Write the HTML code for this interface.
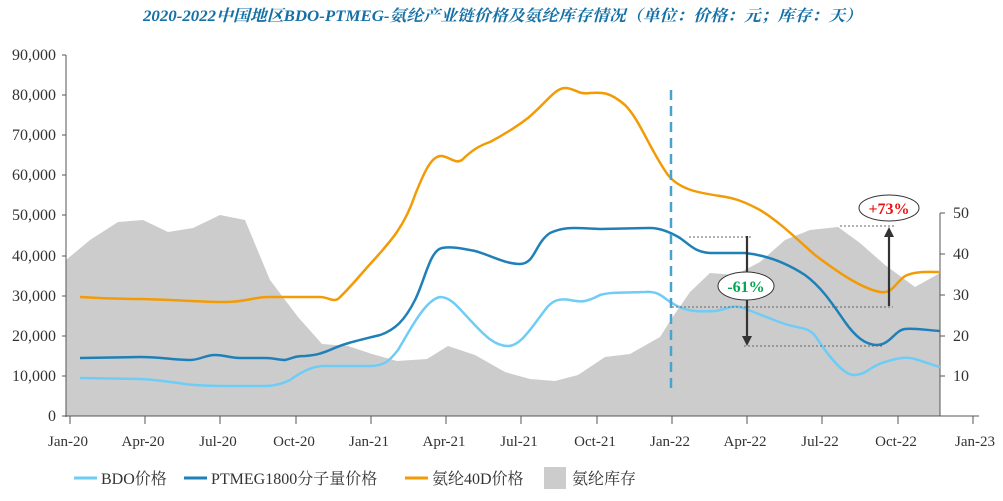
<!DOCTYPE html>
<html><head><meta charset="utf-8"><style>
body{margin:0;background:#fff;}
svg text{font-family:"Liberation Serif","Noto Serif CJK SC",serif;}
</style></head><body>
<svg width="1003" height="496" viewBox="0 0 1003 496" xmlns="http://www.w3.org/2000/svg">
<text x="143" y="21" font-size="16" font-style="italic" font-weight="bold" fill="#1570a6" textLength="719" lengthAdjust="spacingAndGlyphs">2020-2022中国地区BDO-PTMEG-氨纶产业链价格及氨纶库存情况（单位：价格：元；库存：天）</text>
<path d="M66,260 L90,240 L118,222 L143,220 L168,232 L193,228 L220,215 L245,220 L270,280 L298,317 L322,344 L348,346 L372,354 L397,361 L427,359 L448,346 L475,355 L505,372 L530,379 L555,381 L578,375 L605,357 L630,354 L660,337 L672,318 L690,292 L710,273 L735,275 L760,262 L785,240 L810,230 L838,227 L860,243 L885,265 L915,287 L940,273 L940,416 L66,416 Z" fill="#cccccc"/>
<g stroke="#555" stroke-width="1" fill="none">
<line x1="66" y1="55" x2="66" y2="417"/>
<line x1="66" y1="416" x2="979" y2="416"/>
<line x1="940" y1="213" x2="940" y2="416"/>
<path d="M62,55H66M62,95H66M62,135H66M62,175H66M62,215H66M62,256H66M62,296H66M62,336H66M62,376H66M62,416H66"/>
<path d="M940,213H945M940,254H945M940,295H945M940,336H945M940,376H945"/>
<path d="M70,416V424M145,416V424M220,416V424M296,416V424M371,416V424M446,416V424M521,416V424M597,416V424M672,416V424M747,416V424M822,416V424M898,416V424M973,416V424"/>
</g>
<g font-size="16" fill="#333" text-anchor="end">
<text x="56" y="60">90,000</text><text x="56" y="100">80,000</text><text x="56" y="140">70,000</text><text x="56" y="180">60,000</text><text x="56" y="220">50,000</text><text x="56" y="261">40,000</text><text x="56" y="301">30,000</text><text x="56" y="341">20,000</text><text x="56" y="381">10,000</text><text x="56" y="421">0</text>
</g>
<g font-size="16" fill="#333">
<text x="953" y="218">50</text><text x="953" y="259">40</text><text x="953" y="300">30</text><text x="953" y="341">20</text><text x="953" y="381">10</text>
</g>
<g font-size="15" fill="#333" text-anchor="middle">
<text x="68" y="446">Jan-20</text><text x="143" y="446">Apr-20</text><text x="218" y="446">Jul-20</text><text x="294" y="446">Oct-20</text><text x="369" y="446">Jan-21</text><text x="444" y="446">Apr-21</text><text x="519" y="446">Jul-21</text><text x="595" y="446">Oct-21</text><text x="670" y="446">Jan-22</text><text x="745" y="446">Apr-22</text><text x="820" y="446">Jul-22</text><text x="896" y="446">Oct-22</text><text x="975" y="446">Jan-23</text>
</g>
<path d="M80,297 C110,299 130,299 141,299 C180,300 200,302 225,302 C245,302 255,297 268,297 L320,297 C328,297 332,302 338,299 C350,288 360,275 372,262 C392,240 405,225 415,195 C425,170 432,155 442,156 C452,158 455,164 462,160 C470,152 478,146 490,142 C505,134 515,128 528,118 C545,104 555,88 565,88 C575,88 578,95 590,93 C602,92 610,92 625,105 C640,120 650,150 668,175 C680,190 700,193 720,196 C735,198 745,202 760,210 C780,222 800,242 815,255 C835,270 860,288 880,292 C893,294 895,283 905,276 C915,271 928,272 940,272" fill="none" stroke="#f29b05" stroke-width="2.5"/>
<path d="M80,358 L140,357 C160,357 175,360 190,360 C200,360 205,355 215,355 C225,355 230,358 240,358 L265,358 C275,358 278,360 285,360 C293,358 295,356 305,356 C318,355 322,353 330,350 C345,343 360,340 380,335 C395,330 405,320 415,300 C425,280 430,250 442,248 C452,246 465,249 475,251 C490,255 505,264 520,264 C535,264 535,243 550,233 C565,226 575,228 600,229 L650,228 C660,228 670,232 680,238 C690,245 695,252 710,253 L745,253 C765,255 785,262 805,275 C820,286 830,300 845,322 C855,336 865,345 877,345 C890,345 895,330 905,329 C915,328 925,330 940,331" fill="none" stroke="#1f80b8" stroke-width="2.5"/>
<path d="M80,378 L140,379 C160,380 170,382 185,384 C200,386 215,386 230,386 L265,386 C275,386 282,384 290,380 C300,373 310,367 322,366 L370,366 C385,366 390,360 398,350 C410,330 425,300 440,297 C452,297 460,310 472,322 C485,336 495,346 508,346 C520,346 530,330 545,310 C552,300 560,298 570,300 C580,302 585,303 600,295 C610,292 620,293 645,292 C660,291 663,298 672,303 C685,312 700,312 715,311 C725,310 730,305 740,307 C755,312 765,317 785,324 C800,329 810,326 818,340 C830,358 845,376 855,375 C868,374 870,366 885,362 C895,359 905,356 915,359 C925,362 932,365 940,367" fill="none" stroke="#6fccf5" stroke-width="2.5"/>
<line x1="671" y1="90" x2="671" y2="388" stroke="#4ba3cc" stroke-width="2.5" stroke-dasharray="10,6"/>
<g stroke="#666" stroke-width="1" stroke-dasharray="2,2">
<line x1="689" y1="237" x2="752" y2="237"/>
<line x1="672" y1="307" x2="893" y2="307"/>
<line x1="744" y1="346" x2="882" y2="346"/>
<line x1="840" y1="226" x2="895" y2="226"/>
</g>
<g stroke="#333" stroke-width="2.2" fill="#333">
<line x1="747" y1="236" x2="747" y2="338"/>
<path d="M742,336 L752,336 L747,346 Z" stroke="none"/>
<line x1="889" y1="306" x2="889" y2="235"/>
<path d="M884,237 L894,237 L889,227 Z" stroke="none"/>
</g>
<ellipse cx="746" cy="286" rx="28" ry="14" fill="#fff" stroke="#333" stroke-width="1"/>
<text x="746" y="292" text-anchor="middle" font-size="16" font-weight="bold" fill="#00a650">-61%</text>
<ellipse cx="889" cy="208" rx="30" ry="13" fill="#fff" stroke="#333" stroke-width="1"/>
<text x="889" y="214" text-anchor="middle" font-size="16" font-weight="bold" fill="#ee1111">+73%</text>
<line x1="74" y1="478" x2="97" y2="478" stroke="#6fccf5" stroke-width="3"/>
<text x="101" y="484" font-size="16" fill="#333">BDO价格</text>
<line x1="184" y1="478" x2="207" y2="478" stroke="#1f80b8" stroke-width="3"/>
<text x="211" y="484" font-size="16" fill="#333">PTMEG1800分子量价格</text>
<line x1="405" y1="478" x2="428" y2="478" stroke="#f29b05" stroke-width="3"/>
<text x="432" y="484" font-size="16" fill="#333">氨纶40D价格</text>
<rect x="544" y="467" width="22" height="22" fill="#cccccc"/>
<text x="572" y="484" font-size="16" fill="#333">氨纶库存</text>
</svg>
</body></html>
